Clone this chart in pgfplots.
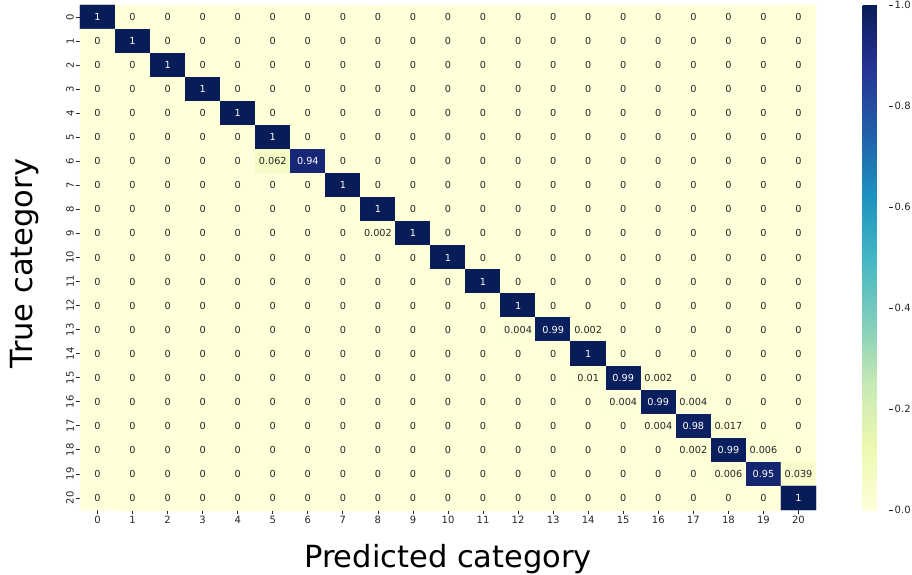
\documentclass[border=0pt]{standalone}
\usepackage{fontspec}
\setmainfont{DejaVu Sans}
\usepackage{pgfplots}
\usepackage{pgfplotstable}
\pgfplotsset{compat=1.18}
\usetikzlibrary{calc}
\definecolor{darktxt}{RGB}{38,38,38}
\pgfplotstableread[row sep=\\]{
x y c\\
0 0 1\\ 1 0 0\\ 2 0 0\\ 3 0 0\\ 4 0 0\\ 5 0 0\\ 6 0 0\\ 7 0 0\\ 8 0 0\\ 9 0 0\\ 10 0 0\\ 11 0 0\\ 12 0 0\\ 13 0 0\\ 14 0 0\\ 15 0 0\\ 16 0 0\\ 17 0 0\\ 18 0 0\\ 19 0 0\\ 20 0 0\\
0 1 0\\ 1 1 1\\ 2 1 0\\ 3 1 0\\ 4 1 0\\ 5 1 0\\ 6 1 0\\ 7 1 0\\ 8 1 0\\ 9 1 0\\ 10 1 0\\ 11 1 0\\ 12 1 0\\ 13 1 0\\ 14 1 0\\ 15 1 0\\ 16 1 0\\ 17 1 0\\ 18 1 0\\ 19 1 0\\ 20 1 0\\
0 2 0\\ 1 2 0\\ 2 2 1\\ 3 2 0\\ 4 2 0\\ 5 2 0\\ 6 2 0\\ 7 2 0\\ 8 2 0\\ 9 2 0\\ 10 2 0\\ 11 2 0\\ 12 2 0\\ 13 2 0\\ 14 2 0\\ 15 2 0\\ 16 2 0\\ 17 2 0\\ 18 2 0\\ 19 2 0\\ 20 2 0\\
0 3 0\\ 1 3 0\\ 2 3 0\\ 3 3 1\\ 4 3 0\\ 5 3 0\\ 6 3 0\\ 7 3 0\\ 8 3 0\\ 9 3 0\\ 10 3 0\\ 11 3 0\\ 12 3 0\\ 13 3 0\\ 14 3 0\\ 15 3 0\\ 16 3 0\\ 17 3 0\\ 18 3 0\\ 19 3 0\\ 20 3 0\\
0 4 0\\ 1 4 0\\ 2 4 0\\ 3 4 0\\ 4 4 1\\ 5 4 0\\ 6 4 0\\ 7 4 0\\ 8 4 0\\ 9 4 0\\ 10 4 0\\ 11 4 0\\ 12 4 0\\ 13 4 0\\ 14 4 0\\ 15 4 0\\ 16 4 0\\ 17 4 0\\ 18 4 0\\ 19 4 0\\ 20 4 0\\
0 5 0\\ 1 5 0\\ 2 5 0\\ 3 5 0\\ 4 5 0\\ 5 5 1\\ 6 5 0\\ 7 5 0\\ 8 5 0\\ 9 5 0\\ 10 5 0\\ 11 5 0\\ 12 5 0\\ 13 5 0\\ 14 5 0\\ 15 5 0\\ 16 5 0\\ 17 5 0\\ 18 5 0\\ 19 5 0\\ 20 5 0\\
0 6 0\\ 1 6 0\\ 2 6 0\\ 3 6 0\\ 4 6 0\\ 5 6 0.062\\ 6 6 0.94\\ 7 6 0\\ 8 6 0\\ 9 6 0\\ 10 6 0\\ 11 6 0\\ 12 6 0\\ 13 6 0\\ 14 6 0\\ 15 6 0\\ 16 6 0\\ 17 6 0\\ 18 6 0\\ 19 6 0\\ 20 6 0\\
0 7 0\\ 1 7 0\\ 2 7 0\\ 3 7 0\\ 4 7 0\\ 5 7 0\\ 6 7 0\\ 7 7 1\\ 8 7 0\\ 9 7 0\\ 10 7 0\\ 11 7 0\\ 12 7 0\\ 13 7 0\\ 14 7 0\\ 15 7 0\\ 16 7 0\\ 17 7 0\\ 18 7 0\\ 19 7 0\\ 20 7 0\\
0 8 0\\ 1 8 0\\ 2 8 0\\ 3 8 0\\ 4 8 0\\ 5 8 0\\ 6 8 0\\ 7 8 0\\ 8 8 1\\ 9 8 0\\ 10 8 0\\ 11 8 0\\ 12 8 0\\ 13 8 0\\ 14 8 0\\ 15 8 0\\ 16 8 0\\ 17 8 0\\ 18 8 0\\ 19 8 0\\ 20 8 0\\
0 9 0\\ 1 9 0\\ 2 9 0\\ 3 9 0\\ 4 9 0\\ 5 9 0\\ 6 9 0\\ 7 9 0\\ 8 9 0.002\\ 9 9 1\\ 10 9 0\\ 11 9 0\\ 12 9 0\\ 13 9 0\\ 14 9 0\\ 15 9 0\\ 16 9 0\\ 17 9 0\\ 18 9 0\\ 19 9 0\\ 20 9 0\\
0 10 0\\ 1 10 0\\ 2 10 0\\ 3 10 0\\ 4 10 0\\ 5 10 0\\ 6 10 0\\ 7 10 0\\ 8 10 0\\ 9 10 0\\ 10 10 1\\ 11 10 0\\ 12 10 0\\ 13 10 0\\ 14 10 0\\ 15 10 0\\ 16 10 0\\ 17 10 0\\ 18 10 0\\ 19 10 0\\ 20 10 0\\
0 11 0\\ 1 11 0\\ 2 11 0\\ 3 11 0\\ 4 11 0\\ 5 11 0\\ 6 11 0\\ 7 11 0\\ 8 11 0\\ 9 11 0\\ 10 11 0\\ 11 11 1\\ 12 11 0\\ 13 11 0\\ 14 11 0\\ 15 11 0\\ 16 11 0\\ 17 11 0\\ 18 11 0\\ 19 11 0\\ 20 11 0\\
0 12 0\\ 1 12 0\\ 2 12 0\\ 3 12 0\\ 4 12 0\\ 5 12 0\\ 6 12 0\\ 7 12 0\\ 8 12 0\\ 9 12 0\\ 10 12 0\\ 11 12 0\\ 12 12 1\\ 13 12 0\\ 14 12 0\\ 15 12 0\\ 16 12 0\\ 17 12 0\\ 18 12 0\\ 19 12 0\\ 20 12 0\\
0 13 0\\ 1 13 0\\ 2 13 0\\ 3 13 0\\ 4 13 0\\ 5 13 0\\ 6 13 0\\ 7 13 0\\ 8 13 0\\ 9 13 0\\ 10 13 0\\ 11 13 0\\ 12 13 0.004\\ 13 13 0.99\\ 14 13 0.002\\ 15 13 0\\ 16 13 0\\ 17 13 0\\ 18 13 0\\ 19 13 0\\ 20 13 0\\
0 14 0\\ 1 14 0\\ 2 14 0\\ 3 14 0\\ 4 14 0\\ 5 14 0\\ 6 14 0\\ 7 14 0\\ 8 14 0\\ 9 14 0\\ 10 14 0\\ 11 14 0\\ 12 14 0\\ 13 14 0\\ 14 14 1\\ 15 14 0\\ 16 14 0\\ 17 14 0\\ 18 14 0\\ 19 14 0\\ 20 14 0\\
0 15 0\\ 1 15 0\\ 2 15 0\\ 3 15 0\\ 4 15 0\\ 5 15 0\\ 6 15 0\\ 7 15 0\\ 8 15 0\\ 9 15 0\\ 10 15 0\\ 11 15 0\\ 12 15 0\\ 13 15 0\\ 14 15 0.01\\ 15 15 0.99\\ 16 15 0.002\\ 17 15 0\\ 18 15 0\\ 19 15 0\\ 20 15 0\\
0 16 0\\ 1 16 0\\ 2 16 0\\ 3 16 0\\ 4 16 0\\ 5 16 0\\ 6 16 0\\ 7 16 0\\ 8 16 0\\ 9 16 0\\ 10 16 0\\ 11 16 0\\ 12 16 0\\ 13 16 0\\ 14 16 0\\ 15 16 0.004\\ 16 16 0.99\\ 17 16 0.004\\ 18 16 0\\ 19 16 0\\ 20 16 0\\
0 17 0\\ 1 17 0\\ 2 17 0\\ 3 17 0\\ 4 17 0\\ 5 17 0\\ 6 17 0\\ 7 17 0\\ 8 17 0\\ 9 17 0\\ 10 17 0\\ 11 17 0\\ 12 17 0\\ 13 17 0\\ 14 17 0\\ 15 17 0\\ 16 17 0.004\\ 17 17 0.98\\ 18 17 0.017\\ 19 17 0\\ 20 17 0\\
0 18 0\\ 1 18 0\\ 2 18 0\\ 3 18 0\\ 4 18 0\\ 5 18 0\\ 6 18 0\\ 7 18 0\\ 8 18 0\\ 9 18 0\\ 10 18 0\\ 11 18 0\\ 12 18 0\\ 13 18 0\\ 14 18 0\\ 15 18 0\\ 16 18 0\\ 17 18 0.002\\ 18 18 0.99\\ 19 18 0.006\\ 20 18 0\\
0 19 0\\ 1 19 0\\ 2 19 0\\ 3 19 0\\ 4 19 0\\ 5 19 0\\ 6 19 0\\ 7 19 0\\ 8 19 0\\ 9 19 0\\ 10 19 0\\ 11 19 0\\ 12 19 0\\ 13 19 0\\ 14 19 0\\ 15 19 0\\ 16 19 0\\ 17 19 0\\ 18 19 0.006\\ 19 19 0.95\\ 20 19 0.039\\
0 20 0\\ 1 20 0\\ 2 20 0\\ 3 20 0\\ 4 20 0\\ 5 20 0\\ 6 20 0\\ 7 20 0\\ 8 20 0\\ 9 20 0\\ 10 20 0\\ 11 20 0\\ 12 20 0\\ 13 20 0\\ 14 20 0\\ 15 20 0\\ 16 20 0\\ 17 20 0\\ 18 20 0\\ 19 20 0\\ 20 20 1\\
}\cm
\begin{document}
\begin{tikzpicture}
\begin{axis}[
  name=main,
  scale only axis,
  width=736pt, height=505pt,
  xmin=-0.5, xmax=20.5, ymin=-0.5, ymax=20.5,
  enlargelimits=false,
  y dir=reverse,
  xtick={0,...,20}, ytick={0,...,20},
  xtick pos=bottom, ytick pos=left,
  tick align=outside,
  major tick length=4pt,
  tick style={darktxt, line width=0.8pt},
  axis line style={draw=none},
  /pgf/number format/assume math mode=true,
  ticklabel style={font=\fontsize{10}{12}\selectfont, text=darktxt},
  yticklabel style={rotate=90, anchor=south, inner sep=2pt},
  xticklabel style={anchor=north, inner sep=2pt},
  xlabel={Predicted category},
  ylabel={True category},
  label style={font=\fontsize{30.5}{36}\selectfont, text=black},
  xlabel style={at={(axis description cs:0.5,0)}, anchor=base, yshift=-57pt, inner sep=0pt},
  ylabel style={at={(axis description cs:0,0.5)}, anchor=base, yshift=47pt, xshift=-6pt, inner sep=0pt},
  colormap={ylgnbu}{rgb255=(255,255,217) rgb255=(237,248,177) rgb255=(199,233,180) rgb255=(127,205,187) rgb255=(65,182,196) rgb255=(29,145,192) rgb255=(34,94,168) rgb255=(37,52,148) rgb255=(8,29,88)},
  point meta min=0, point meta max=1,
  colorbar,
  colorbar style={
    scale only axis,
    at={(parent axis.north east)}, anchor=north west, xshift=38pt,
    width=26pt, height=505pt,
    axis line style={draw=none},
    ytick={0,0.2,0.4,0.6,0.8,1.0},
    ytick pos=right, yticklabel pos=right,
    yticklabel style={rotate=0, anchor=west, font=\fontsize{10}{12}\selectfont, text=darktxt, inner sep=2pt, /pgf/number format/.cd, fixed, fixed zerofill, precision=1, assume math mode=true},
    ytick align=outside, major tick length=4pt,
    ytick style={darktxt, line width=0.8pt},
  },
]
\addplot[matrix plot*, mesh/cols=21, mesh/rows=21, point meta=\thisrow{c}] table[x=x, y=y] {\cm};
\addplot[draw=none, mark=none, point meta=\thisrow{c},
  restrict expr to domain={\thisrow{c}}{0.5:1.5},
  nodes near coords={\pgfmathprintnumber[fixed,precision=3,assume math mode=true]{\pgfplotspointmeta}},
  nodes near coords align={center},
  every node near coord/.append style={text=white, font=\fontsize{9.7}{11}\selectfont}]
  table[x=x, y=y] {\cm};
\addplot[draw=none, mark=none, point meta=\thisrow{c},
  restrict expr to domain={\thisrow{c}}{-0.5:0.5},
  nodes near coords={\pgfmathprintnumber[fixed,precision=3,assume math mode=true]{\pgfplotspointmeta}},
  nodes near coords align={center},
  every node near coord/.append style={text=darktxt, font=\fontsize{9.7}{11}\selectfont}]
  table[x=x, y=y] {\cm};
\end{axis}
\pgfresetboundingbox
\path[use as bounding box] ($(main.south west)+(-80pt,-65pt)$) rectangle ++(912pt,575pt);
\end{tikzpicture}
\end{document}
